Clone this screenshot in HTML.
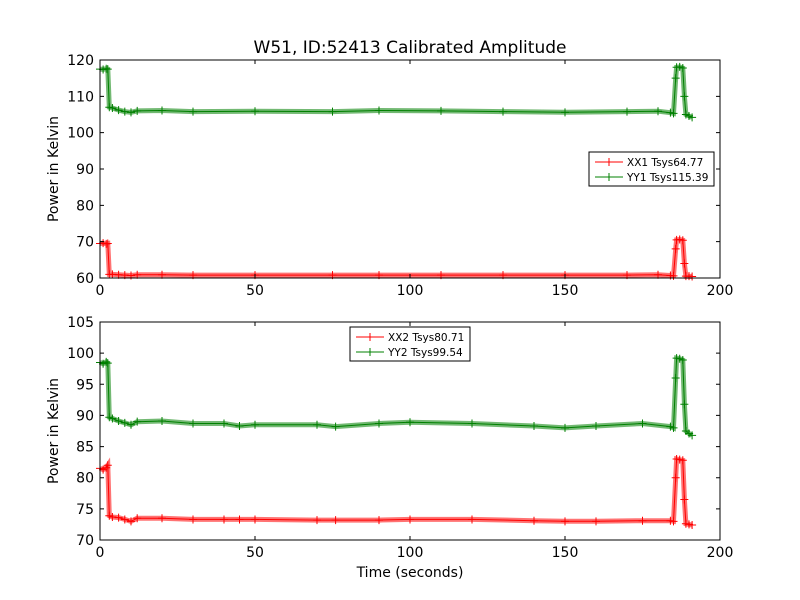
<!DOCTYPE html>
<html><head><meta charset="utf-8"><style>
body{margin:0;background:#fff;}
svg{display:block;font-family:"DejaVu Sans","Liberation Sans",sans-serif;}
</style></head><body>
<svg id="chart" width="800" height="600" viewBox="0 0 800 600">
<rect width="800" height="600" fill="#fff"/>
<text x="410" y="53" font-size="17" text-anchor="middle">W51, ID:52413 Calibrated Amplitude</text>
<g id="top"></g>
<g id="bot"></g>
<text x="410" y="577" font-size="14" text-anchor="middle">Time (seconds)</text>
</svg>
<script>
const NS="http://www.w3.org/2000/svg";
const xTicks=[0,50,100,150,200];
const topYTicks=[60,70,80,90,100,110,120];
const botYTicks=[70,75,80,85,90,95,100,105];
const tTop=[0,1,2,2.5,3,4,6,8,10,12,20,30,50,75,90,110,130,150,170,180,184,185,185.7,186,187,188,188.5,189,190,191];
const xx1=[69.5,69.6,69.4,69.5,61,61,60.9,60.8,60.7,60.9,60.9,60.8,60.8,60.8,60.8,60.8,60.8,60.8,60.8,60.9,60.7,60.6,68,70.5,70.6,70.4,64,60.5,60.5,60.4];
const yy1=[117.5,117.4,117.6,117.5,107,106.8,106.2,105.8,105.6,106,106.1,105.8,105.9,105.8,106.1,106,105.8,105.6,105.8,105.9,105.5,105.3,115,118,118.1,117.8,110,105,104.6,104.2];
const tBot=[0,1,2,2.5,3,4,6,8,10,12,20,30,40,45,50,70,76,90,100,120,140,150,160,175,184,185,185.7,186,187,188,188.5,189,190,191];
const xx2=[81.5,81.3,81.6,82,73.9,73.7,73.6,73.3,73,73.5,73.5,73.3,73.3,73.3,73.3,73.2,73.2,73.2,73.3,73.3,73.1,73,73,73.1,73.1,73,80,83,82.9,82.8,76.5,72.6,72.5,72.4];
const yy2=[98.5,98.3,98.6,98.4,89.7,89.5,89.1,88.8,88.5,89,89.1,88.7,88.7,88.3,88.5,88.5,88.2,88.7,88.9,88.7,88.3,88,88.3,88.7,88.2,88,96,99.2,99.1,98.9,91.8,87.5,87.1,86.8];

function el(tag,attrs,parent){const e=document.createElementNS(NS,tag);for(const k in attrs)e.setAttribute(k,attrs[k]);parent.appendChild(e);return e;}

function panel(g,y0,y1,ymin,ymax,yTicks,series,legend){
  const L=100,R=720;
  const sx=v=>L+(v-0)/(200-0)*(R-L);
  const sy=v=>y1-(v-ymin)/(ymax-ymin)*(y1-y0);
  series.forEach(s=>{
    const pts=s.t.map((t,i)=>sx(t).toFixed(1)+","+sy(s.v[i]).toFixed(1)).join(" ");
    const band=el("polyline",{points:pts,fill:"none",stroke:s.c,"stroke-opacity":"0.55","stroke-width":"5"},g);
    
    
    const ln=el("polyline",{points:pts,fill:"none",stroke:s.c,"stroke-width":"1"},g);
    
    
    s.t.forEach((t,i)=>{
      const x=sx(t),y=sy(s.v[i]);
      const m=el("path",{d:`M${x-4},${y}h8M${x},${y-4}v8`,stroke:s.c,"stroke-width":"1"},g);
      
      
    });
  });
  const fr=el("rect",{x:L,y:y0,width:R-L,height:y1-y0,fill:"none",stroke:"#000","stroke-width":"1"},g);
  
  
  xTicks.forEach(v=>{
    const x=sx(v);
    el("path",{d:`M${x},${y1}v-4M${x},${y0}v4`,stroke:"#000"},g);
    const tx=el("text",{x:x,y:y1+17,"font-size":"14","text-anchor":"middle"},g);
    tx.textContent=v;
    
    
  });
  yTicks.forEach(v=>{
    const y=sy(v);
    el("path",{d:`M${L},${y}h4M${R},${y}h-4`,stroke:"#000"},g);
    const tx=el("text",{x:L-6,y:y+5,"font-size":"14","text-anchor":"end"},g);
    tx.textContent=v;
    
    
  });
  const yt=el("text",{x:0,y:0,"font-size":"14","text-anchor":"middle",transform:`translate(58,${(y0+y1)/2}) rotate(-90)`},g);
  yt.textContent="Power in Kelvin";
  
  
  const lg=el("g",{},g);
  
  
  el("rect",{x:legend.x,y:legend.y,width:legend.w,height:34,fill:"#fff",stroke:"#000"},lg);
  series.forEach((s,i)=>{
    const yy=legend.y+10+i*15;
    el("path",{d:`M${legend.x+6},${yy}h28M${legend.x+20},${yy-4}v8`,stroke:s.c},lg);
    const tx=el("text",{x:legend.x+38,y:yy+4,"font-size":"10.5"},lg);
    tx.textContent=s.label;
    
    
  });
}
panel(document.getElementById("top"),60,278,60,120,topYTicks,
  [{t:tTop,v:xx1,c:"#ff0000",name:"xx1",label:"XX1 Tsys64.77"},{t:tTop,v:yy1,c:"#008000",name:"yy1",label:"YY1 Tsys115.39"}],
  {x:589,y:152,w:125});
panel(document.getElementById("bot"),322,540,70,105,botYTicks,
  [{t:tBot,v:xx2,c:"#ff0000",name:"xx2",label:"XX2 Tsys80.71"},{t:tBot,v:yy2,c:"#008000",name:"yy2",label:"YY2 Tsys99.54"}],
  {x:350,y:327,w:120});
</script>
</body></html>
